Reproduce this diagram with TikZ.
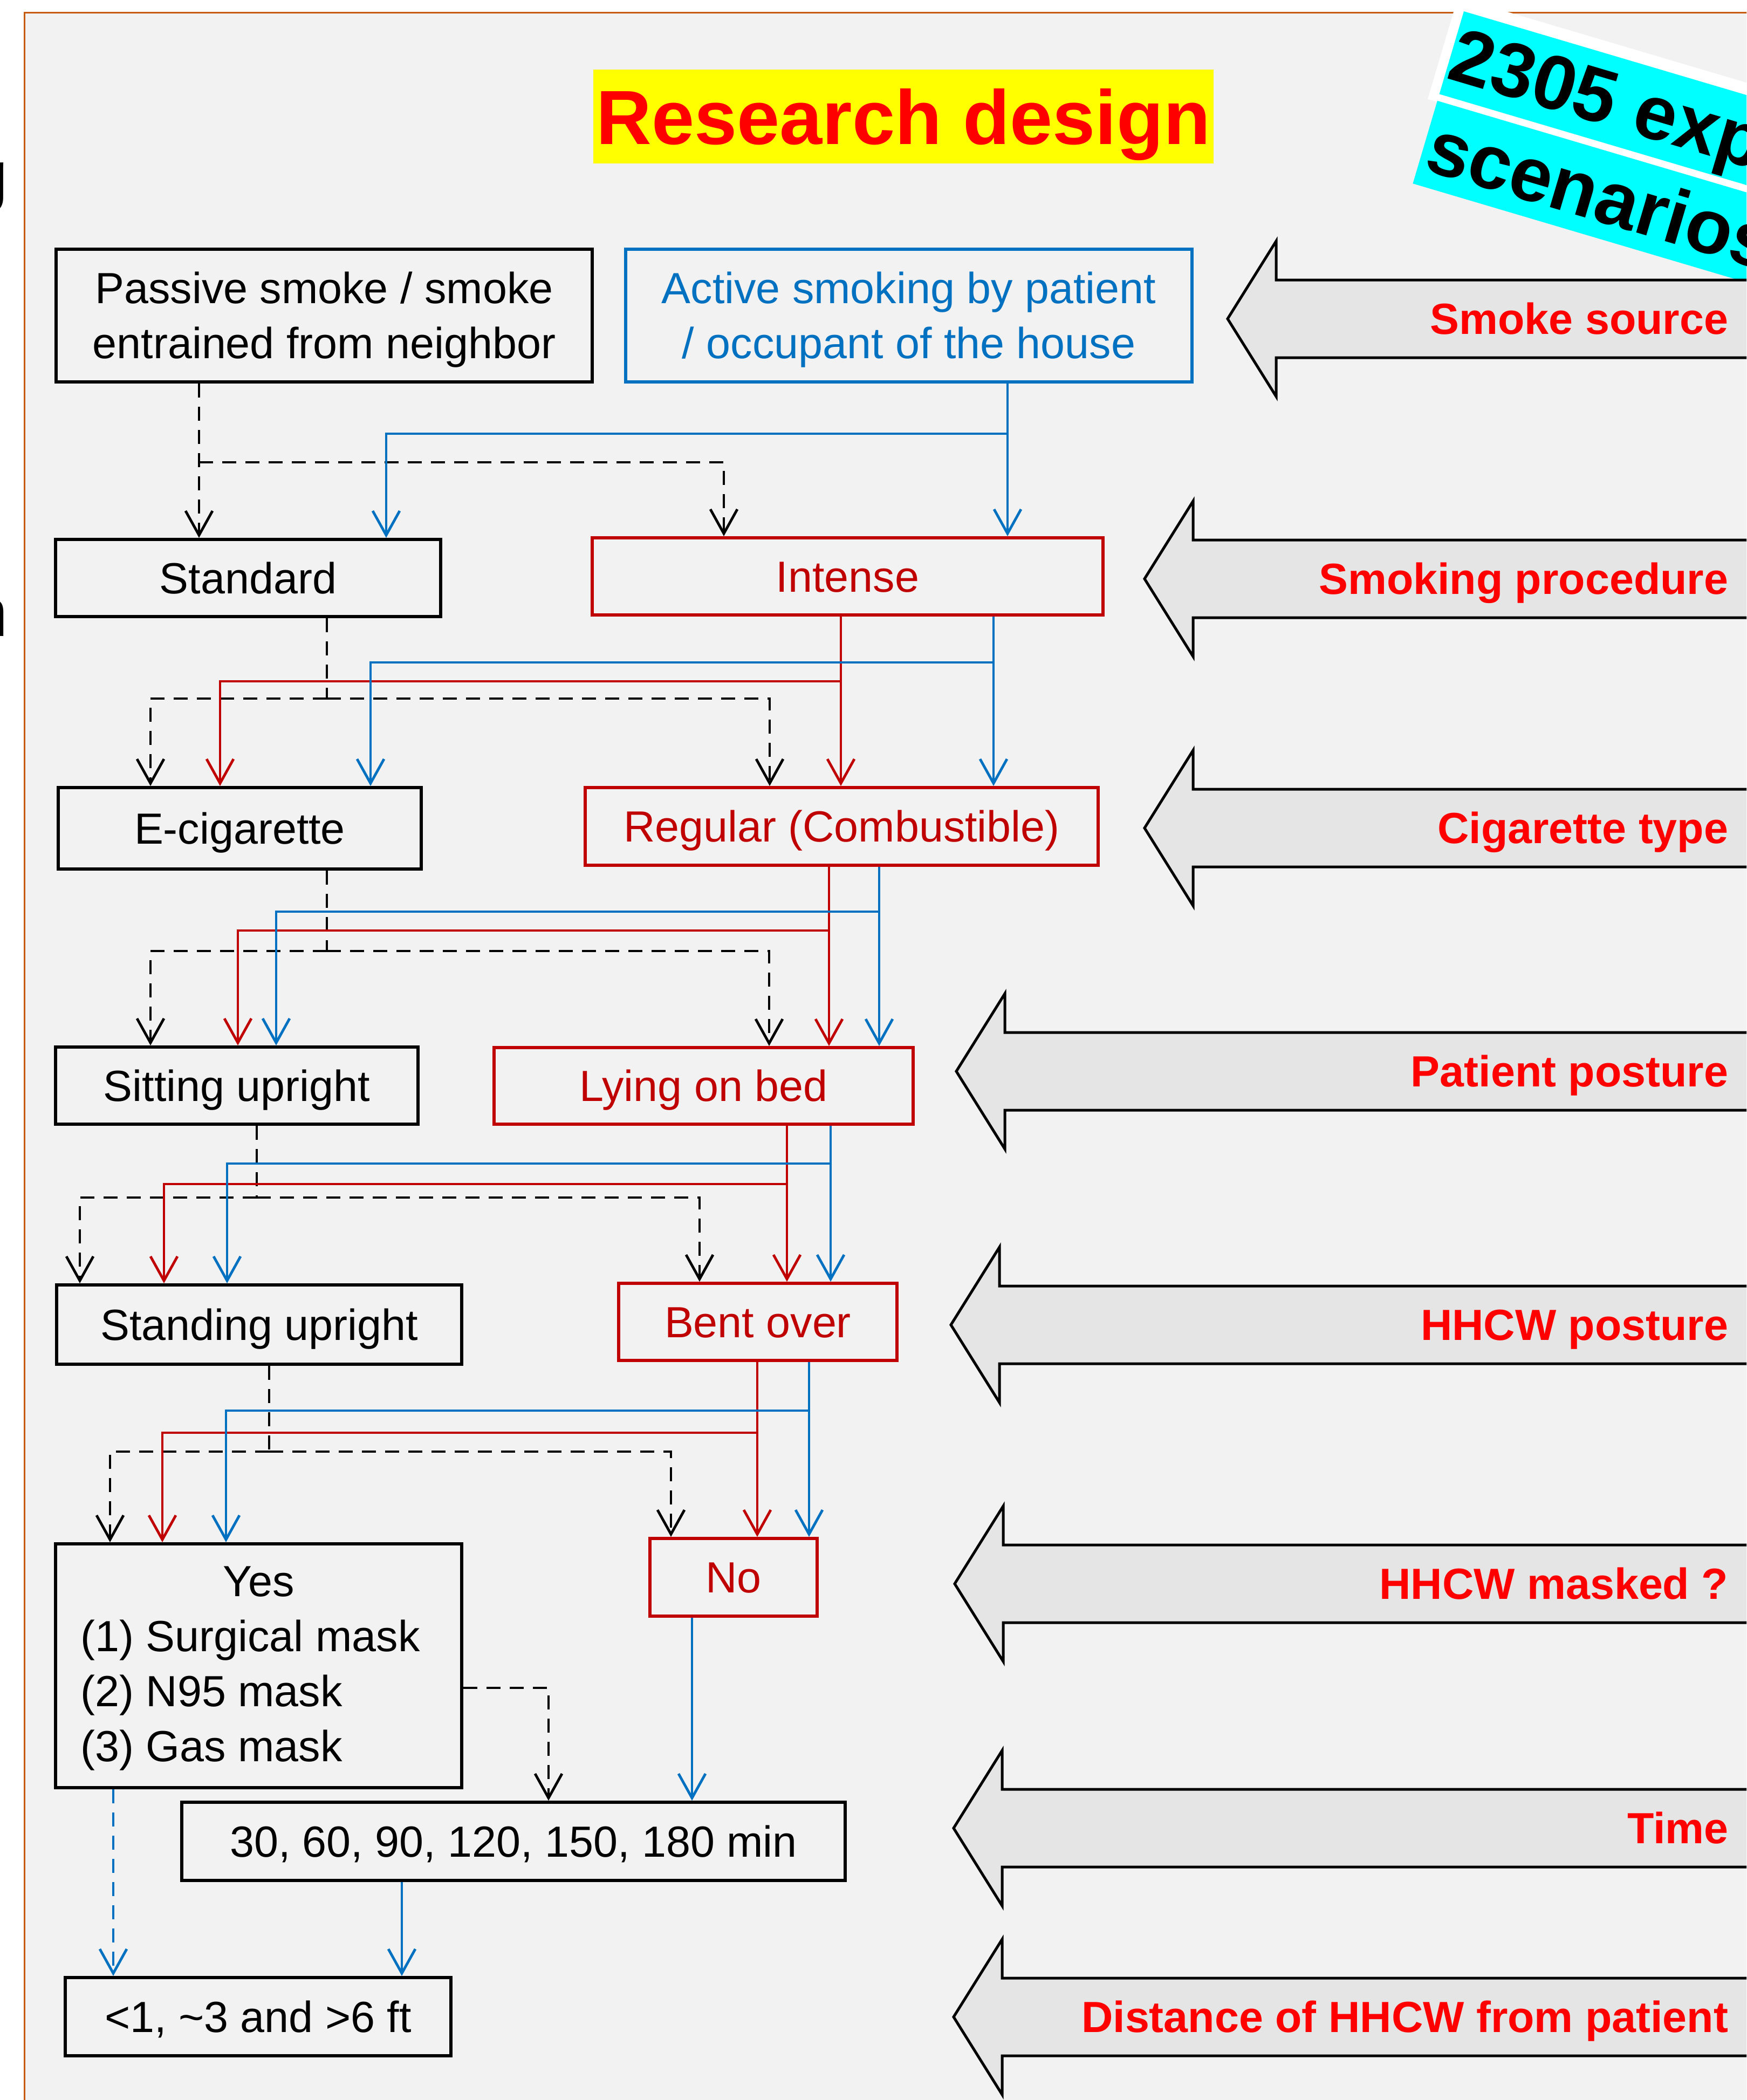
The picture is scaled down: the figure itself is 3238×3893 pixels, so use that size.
\documentclass[tikz,border=0pt]{standalone}
\usepackage{fontspec}
\setmainfont{Liberation Sans}
\usetikzlibrary{arrows.meta}

\definecolor{frameorange}{HTML}{C55A11}
\definecolor{panelgray}{HTML}{F2F2F2}
\definecolor{arrowgray}{HTML}{E5E5E5}
\definecolor{darkred}{HTML}{C00000}
\definecolor{midblue}{HTML}{0070C0}
\definecolor{labelred}{HTML}{FF0000}
\definecolor{bannercyan}{HTML}{00FFFF}
\definecolor{titleyellow}{HTML}{FFFF00}

\newcommand\boxfont{\fontsize{23}{29}\selectfont}
\newcommand\labelfont{\fontsize{23}{29}\selectfont\bfseries}
\newcommand\bigfont{\fontsize{40.5}{48}\selectfont\bfseries}

\begin{document}
\begin{tikzpicture}[x=0.1mm, y=-0.1mm,
  flowbox/.style={draw, line width=0.6mm, inner sep=0pt, font=\boxfont,
                  text height=5.7mm, text depth=0pt},
  blackbox/.style={flowbox, draw=black, text=black},
  bluebox/.style={flowbox, draw=midblue, text=midblue},
  redbox/.style={flowbox, draw=darkred, text=darkred},
  boxline/.style={anchor=base, inner sep=0pt, font=\boxfont},
  link/.style={line width=0.48mm, -{Straight Barb[length=4.5mm,width=5mm]}},
  dashlink/.style={link, black, dash pattern=on 2.6mm off 1.7mm},
  dashplain/.style={line width=0.48mm, black, dash pattern=on 2.6mm off 1.7mm},
  redlink/.style={link, darkred},
  bluelink/.style={link, midblue},
  bluedashlink/.style={link, midblue, dash pattern=on 2.6mm off 1.7mm},
  blockarrow/.style={draw=black, line width=0.5mm, fill=arrowgray, line join=miter},
  sidelabel/.style={anchor=base east, inner sep=0pt, font=\labelfont, text=labelred},
  edgeglyph/.style={anchor=base west, inner sep=0pt, font=\fontsize{36}{36}\selectfont}]

\useasboundingbox (0,0) rectangle (3238,3893);
\clip (0,0) rectangle (3238,3893);

% page and framed panel
\fill[white] (0,0) rectangle (3238,3893);
\node[edgeglyph] (edgeg) at (-56,368) {g};
\node[edgeglyph] (edgen) at (-56,1179) {n};
\draw[frameorange, line width=0.3mm, fill=panelgray] (45,23) rectangle (3400,4100);

% title
\node[fill=titleyellow, minimum width=115mm, minimum height=17.4mm, inner sep=0pt,
      font=\bigfont, text=labelred, text height=10.2mm, text depth=0pt]
      (title) at (1675,216) {Research design};

% rotated banner in the top right corner
\begin{scope}[shift={(2714,21)}, rotate=-16.5, transform shape]
  \fill[white] (-18,-22) rectangle (1100,175);
  \fill[bannercyan] (0,0) rectangle (1100,160);
  \fill[bannercyan] (0,173) rectangle (1100,333);
  \node[anchor=base west, inner sep=0pt, font=\bigfont] (bannerA) at (1,128) {2305 exposure};
  \node[anchor=base west, inner sep=0pt, font=\bigfont] (bannerB) at (9,303) {scenarios};
\end{scope}

% factor arrows on the right
\foreach \tx/\cy in {2276/591, 2122/1073, 2122/1535, 1773/1986, 1763/2456, 1770/2936, 1768/3389, 1768/3739}
  \draw[blockarrow] (\tx,\cy) -- ++(90,-144) -- ++(0,72) -- ++(1600,0) -- ++(0,144)
                    -- ++(-1600,0) -- ++(0,72) -- cycle;
\node[sidelabel] (lsource)   at (3205,619)  {Smoke source};
\node[sidelabel] (lprocedure) at (3205,1101) {Smoking procedure};
\node[sidelabel] (ltype)     at (3205,1563) {Cigarette type};
\node[sidelabel] (lpatient)  at (3205,2014) {Patient posture};
\node[sidelabel] (lhhcw)     at (3205,2484) {HHCW posture};
\node[sidelabel] (lmasked)   at (3205,2964) {HHCW masked ?};
\node[sidelabel] (ltime)     at (3205,3417) {Time};
\node[sidelabel] (ldistance) at (3205,3767) {Distance of HHCW from patient};

% boxes
\node[blackbox, minimum width=99.4mm, minimum height=24.6mm] (passive) at (601,585) {};
\node[boxline] (passiveA) at (601,562) {Passive smoke / smoke};
\node[boxline] (passiveB) at (601,664) {entrained from neighbor};
\node[bluebox, minimum width=105mm, minimum height=24.6mm] (active) at (1685,585) {};
\node[boxline, text=midblue] (activeA) at (1685,562) {Active smoking by patient};
\node[boxline, text=midblue] (activeB) at (1685,664) {/ occupant of the house};

\node[blackbox, minimum width=71.4mm, minimum height=14.3mm] (standard) at (460,1071.5) {Standard};
\node[redbox, minimum width=94.7mm, minimum height=14.3mm] (intense) at (1571.5,1068.5) {Intense};

\node[blackbox, minimum width=67.3mm, minimum height=15.1mm] (ecig) at (444.5,1535.5) {E-cigarette};
\node[redbox, minimum width=95.1mm, minimum height=14.4mm] (regular) at (1560.5,1532) {Regular (Combustible)};

\node[blackbox, minimum width=67.2mm, minimum height=14.3mm] (sitting) at (439,2012.5) {Sitting upright};
\node[redbox, minimum width=77.7mm, minimum height=14.2mm] (lying) at (1304.5,2013) {Lying on bed};

\node[blackbox, minimum width=75.1mm, minimum height=14.7mm] (standing) at (480.5,2455.5) {Standing upright};
\node[redbox, minimum width=51.6mm, minimum height=14.3mm] (bent) at (1405,2450.5) {Bent over};

\node[blackbox, minimum width=75.3mm, minimum height=45.2mm] (yes) at (479.5,3088) {};
\node[boxline] (yesA) at (479.5,2959) {Yes};
\node[boxline, anchor=base west] (yesB) at (149,3061) {(1) Surgical mask};
\node[boxline, anchor=base west] (yesC) at (149,3163) {(2) N95 mask};
\node[boxline, anchor=base west] (yesD) at (149,3265) {(3) Gas mask};
\node[redbox, minimum width=31mm, minimum height=14.4mm] (no) at (1360,2924) {No};

\node[blackbox, minimum width=123mm, minimum height=14.5mm] (time) at (952,3413.5) {30, 60, 90, 120, 150, 180 min};
\node[blackbox, minimum width=71.5mm, minimum height=14.5mm] (dist) at (478.5,3738.5) {<1, \textasciitilde3 and >6 ft};

% branch points of the connectors
\coordinate (jd1) at (369,857);   \coordinate (jb1) at (1868,804);
\coordinate (jd2) at (606,1295);  \coordinate (jr2) at (1559,1263); \coordinate (jb2) at (1842,1228);
\coordinate (jd3) at (606,1763);  \coordinate (jr3) at (1537,1725); \coordinate (jb3) at (1630,1690);
\coordinate (jd4) at (476,2220);  \coordinate (jr4) at (1459,2195); \coordinate (jb4) at (1540,2157);
\coordinate (jd5) at (499,2691);  \coordinate (jr5) at (1404,2656); \coordinate (jb5) at (1500,2615);

% smoke source -> smoking procedure
\draw[dashlink] (passive.south -| 369,0) -- (standard.north -| 369,0);
\draw[dashlink] (jd1) -| (intense.north -| 1342,0);
\draw[bluelink] (active.south -| 1868,0) -- (intense.north -| 1868,0);
\draw[bluelink] (jb1) -| (standard.north -| 716,0);

% smoking procedure -> cigarette type
\draw[dashplain] (standard.south -| 606,0) -- (jd2);
\draw[dashlink] (jd2) -| (ecig.north -| 279,0);
\draw[dashlink] (jd2) -| (regular.north -| 1427,0);
\draw[redlink] (intense.south -| 1559,0) -- (regular.north -| 1559,0);
\draw[redlink] (jr2) -| (ecig.north -| 408,0);
\draw[bluelink] (intense.south -| 1842,0) -- (regular.north -| 1842,0);
\draw[bluelink] (jb2) -| (ecig.north -| 687,0);

% cigarette type -> patient posture
\draw[dashplain] (ecig.south -| 606,0) -- (jd3);
\draw[dashlink] (jd3) -| (sitting.north -| 279,0);
\draw[dashlink] (jd3) -| (lying.north -| 1426,0);
\draw[redlink] (regular.south -| 1537,0) -- (lying.north -| 1537,0);
\draw[redlink] (jr3) -| (sitting.north -| 441,0);
\draw[bluelink] (regular.south -| 1630,0) -- (lying.north -| 1630,0);
\draw[bluelink] (jb3) -| (sitting.north -| 512,0);

% patient posture -> HHCW posture
\draw[dashplain] (sitting.south -| 476,0) -- (jd4);
\draw[dashlink] (jd4) -| (standing.north -| 148,0);
\draw[dashlink] (jd4) -| (bent.north -| 1297,0);
\draw[redlink] (lying.south -| 1459,0) -- (bent.north -| 1459,0);
\draw[redlink] (jr4) -| (standing.north -| 304,0);
\draw[bluelink] (lying.south -| 1540,0) -- (bent.north -| 1540,0);
\draw[bluelink] (jb4) -| (standing.north -| 421,0);

% HHCW posture -> HHCW masked
\draw[dashplain] (standing.south -| 499,0) -- (jd5);
\draw[dashlink] (jd5) -| (yes.north -| 204,0);
\draw[dashlink] (jd5) -| (no.north -| 1244,0);
\draw[redlink] (bent.south -| 1404,0) -- (no.north -| 1404,0);
\draw[redlink] (jr5) -| (yes.north -| 301,0);
\draw[bluelink] (bent.south -| 1500,0) -- (no.north -| 1500,0);
\draw[bluelink] (jb5) -| (yes.north -| 419,0);

% masked -> time -> distance
\draw[dashlink] (yes.east |- 0,3129) -| (time.north -| 1017,0);
\draw[bluelink] (no.south -| 1283,0) -- (time.north -| 1283,0);
\draw[bluedashlink] (yes.south -| 210,0) -- (dist.north -| 210,0);
\draw[bluelink] (time.south -| 745,0) -- (dist.north -| 745,0);

\end{tikzpicture}
\end{document}
